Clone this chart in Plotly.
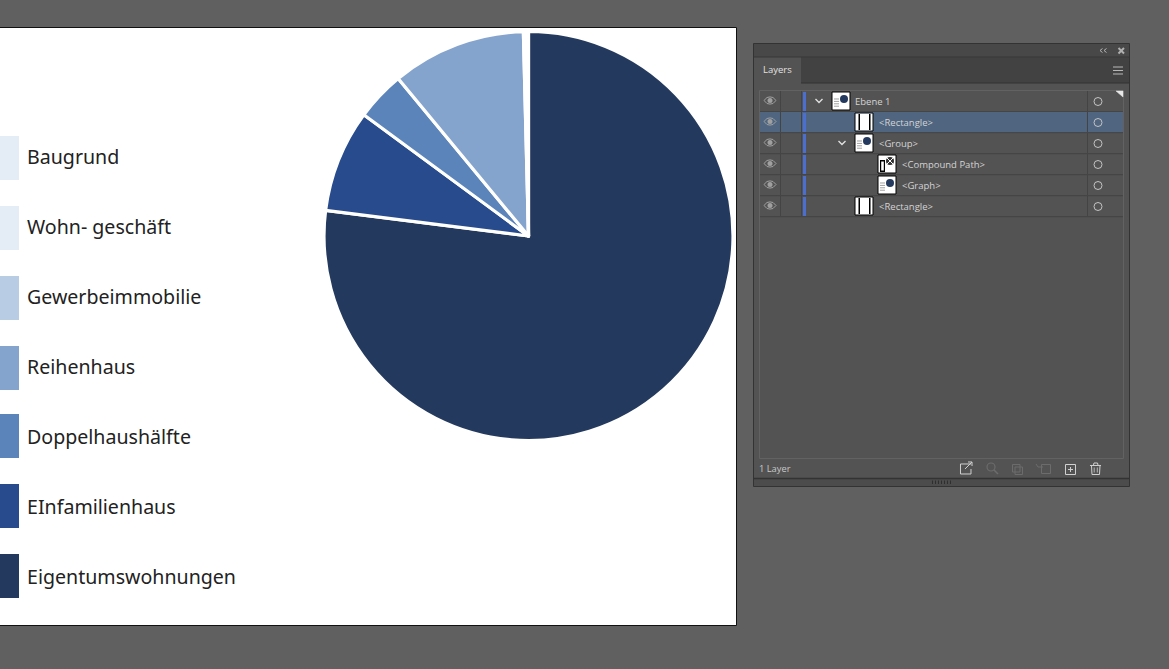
import plotly.graph_objects as go

W, H = 1169, 669

# ---- chart data ----
categories = ["Eigentumswohnungen", "EInfamilienhaus", "Doppelhaushälfte", "Reihenhaus",
              "Gewerbeimmobilie", "Wohn- geschäft", "Baugrund"]
values = [77.0, 8.1, 3.9, 10.6, 0.2, 0.1, 0.1]
colors = ["#24395e", "#274b8d", "#5b84ba", "#84a4cd", "#b8cce4", "#e4edf6", "#e4edf6"]

layer_names = ["Ebene 1", "<Rectangle>", "<Group>", "<Compound Path>", "<Graph>", "<Rectangle>"]
layer_text_x = [855, 879, 879, 902, 902, 879]
layer_thumb_x = [832, 855, 855, 878, 878, 855]
layer_thumb_kind = ["pie", "rect", "pie", "comp", "pie", "rect"]


def px(x):
    return x / W


def py(y):
    return 1 - y / H


shapes = []
annotations = []


def rect(x0, y0, x1, y1, fill="rgba(0,0,0,0)", line=None, lw=1):
    shapes.append(dict(type="rect", xref="paper", yref="paper", layer="below",
                       x0=px(x0), x1=px(x1), y0=py(y0), y1=py(y1), fillcolor=fill,
                       line=dict(color=line or "rgba(0,0,0,0)", width=lw if line else 0)))


def oval(x0, y0, x1, y1, fill="rgba(0,0,0,0)", line=None, lw=1):
    shapes.append(dict(type="circle", xref="paper", yref="paper", layer="below",
                       x0=px(x0), x1=px(x1), y0=py(y0), y1=py(y1), fillcolor=fill,
                       line=dict(color=line or "rgba(0,0,0,0)", width=lw if line else 0)))


def poly(points, line="#cfcfcf", lw=1.3, fill=None, close=False):
    d = "M " + " L ".join(f"{px(a):.5f},{py(b):.5f}" for a, b in points) + (" Z" if close else "")
    shapes.append(dict(type="path", xref="paper", yref="paper", layer="below", path=d,
                       fillcolor=fill or "rgba(0,0,0,0)",
                       line=dict(color=line, width=lw)))


def text(x, y, s, size, color, family="Open Sans", anchor="left"):
    annotations.append(dict(xref="paper", yref="paper", x=px(x), y=py(y), text=s, showarrow=False,
                            xanchor=anchor, yanchor="middle", align="left",
                            font=dict(size=size, color=color, family=family),
                            borderpad=0, borderwidth=0))


# ---- artboard ----
rect(-5, 27.5, 736.5, 625.5, fill="#ffffff", line="#111111", lw=1)

# ---- hand-built legend ----
legend_tops = [554, 484, 414, 346, 276, 206, 136]
legend_text_y = [576.6, 506.6, 436.6, 366.6, 296.6, 226.6, 156.6]
for name, col, top, ty in zip(categories, colors, legend_tops, legend_text_y):
    rect(-2, top, 19, top + 44, fill=col)
    text(27, ty, name, 19.6, "#222222", family="Noto Sans")

# ---- layers panel ----
rect(753.5, 43.5, 1129.5, 486.5, fill="#535353", line="#333333", lw=1)
rect(754, 44, 1129, 57, fill="#484848")
rect(754, 57, 1129, 83, fill="#424242")
rect(754, 57, 801, 83, fill="#535353")
poly([(754, 57), (1129, 57)], line="#383838", lw=1)
poly([(801, 83), (1129, 83)], line="#333333", lw=1)
text(763, 69.5, "Layers", 9.5, "#e2e2e2", family="Open Sans")

# panel controls
for x in (1100, 1104):
    poly([(x + 2.5, 48.5), (x, 50.5), (x + 2.5, 52.5)], line="#b5b5b5", lw=1)
poly([(1118.5, 48), (1124, 53.5)], line="#b0b0b0", lw=2)
poly([(1124, 48), (1118.5, 53.5)], line="#b0b0b0", lw=2)
for y in (67, 70.5, 74):
    poly([(1113, y), (1123, y)], line="#b9b9b9", lw=1)

# list area
rect(759.5, 90.5, 1123.5, 458.5, line="#626262", lw=1)

rows_top = [91, 112, 133, 154, 175, 196]
chevrons = [(819, 101), None, (842, 143), None, None, None]
for i, top in enumerate(rows_top):
    mid = top + 10.5
    if i == 1:
        rect(760, top, 1123, top + 20.5, fill="#4f6580")
    poly([(760, top + 20.7), (1123, top + 20.7)], line="#434343", lw=1)
    # column separators
    poly([(780.5, top), (780.5, top + 20)], line="#444444", lw=1)
    poly([(801.5, top), (801.5, top + 20)], line="#444444", lw=1)
    poly([(1087.5, top), (1087.5, top + 20)], line="#444444", lw=1)
    # eye
    poly([(764, mid - 1), (767, mid - 4), (770, mid - 4.6), (773, mid - 4), (776, mid - 1),
          (773, mid + 2), (770, mid + 2.6), (767, mid + 2)], line="#a0a0a0", lw=1, close=True)
    oval(767.5, mid - 3.5, 772.5, mid + 1.5, fill="#a0a0a0")
    # colour bar
    rect(803, top + 1, 806, top + 20, fill="#4a6fd1")
    # target circle
    oval(1094, mid - 4, 1102, mid + 4, line="#c4c4c4", lw=1)
    # thumbnail
    tx = layer_thumb_x[i]
    ty = top + 1
    rect(tx, ty, tx + 18, ty + 18, fill="#ffffff", line="#000000", lw=1)
    kind = layer_thumb_kind[i]
    if kind == "pie":
        oval(tx + 8, ty + 3, tx + 16, ty + 11, fill="#24395e")
        for k in range(4):
            poly([(tx + 2, ty + 7 + k * 2.4), (tx + 7, ty + 7 + k * 2.4)], line="#a0a0a0", lw=1)
    elif kind == "rect":
        rect(tx + 3.5, ty + 1, tx + 5, ty + 17, fill="#000000")
        rect(tx + 14, ty + 1, tx + 15.5, ty + 17, fill="#000000")
    else:
        rect(tx + 2, ty + 5, tx + 7, ty + 17, fill="#000000")
        rect(tx + 3.2, ty + 6.5, tx + 5.8, ty + 15.5, fill="#ffffff")
        oval(tx + 8, ty + 2, tx + 16, ty + 10, fill="#333333")
        poly([(tx + 9, ty + 3), (tx + 15, ty + 9)], line="#ffffff", lw=1)
        poly([(tx + 15, ty + 3), (tx + 9, ty + 9)], line="#ffffff", lw=1)
    # chevron
    if chevrons[i]:
        cx, cy = chevrons[i]
        poly([(cx - 3.5, cy - 2), (cx, cy + 1.5), (cx + 3.5, cy - 2)], line="#e0e0e0", lw=1.4)
    text(layer_text_x[i], mid - 0.4, layer_names[i].replace("<", "&lt;").replace(">", "&gt;"),
         9.5, "#d4d4d4", family="Open Sans")

# corner fold on first row
poly([(1116, 91), (1123, 91), (1123, 97)], line="#e8e8e8", lw=0.5, fill="#e8e8e8", close=True)

# footer
text(759, 468.5, "1 Layer", 9.3, "#c8c8c8", family="Open Sans")
poly([(971, 464), (960.5, 464), (960.5, 474), (971, 474), (971, 469)], line="#d0d0d0", lw=1)
poly([(965, 469), (972, 462)], line="#d0d0d0", lw=1)
poly([(968, 462), (972, 462), (972, 466)], line="#d0d0d0", lw=1)
oval(987, 463, 995, 471, line="#6c6c6c", lw=1.2)
poly([(994, 470), (998, 474)], line="#6c6c6c", lw=1.6)
rect(1012.5, 464.5, 1020, 472, line="#6c6c6c", lw=1)
rect(1015, 467, 1022.5, 474.5, line="#6c6c6c", lw=1)
rect(1041.5, 464.5, 1050.5, 473.5, line="#6c6c6c", lw=1)
poly([(1036, 464), (1038, 467), (1043, 467)], line="#6c6c6c", lw=1)
rect(1065.5, 464.5, 1075.5, 474.5, line="#d0d0d0", lw=1)
poly([(1068, 469.5), (1073, 469.5)], line="#d0d0d0", lw=1)
poly([(1070.5, 467), (1070.5, 472)], line="#d0d0d0", lw=1)
poly([(1090, 465.5), (1101, 465.5)], line="#d0d0d0", lw=1)
poly([(1091.5, 465.5), (1092, 474.5), (1099.5, 474.5), (1100, 465.5)], line="#d0d0d0", lw=1)
poly([(1093.5, 465), (1094, 463), (1097.5, 463), (1098, 465)], line="#d0d0d0", lw=1)
poly([(1094.2, 467.5), (1094.2, 472.5)], line="#d0d0d0", lw=0.8)
poly([(1097.3, 467.5), (1097.3, 472.5)], line="#d0d0d0", lw=0.8)
rect(754, 479, 1129, 486, fill="#4c4c4c")
poly([(754, 478.5), (1129, 478.5)], line="#333333", lw=1.5)
for k in range(7):
    x = 932.5 + k * 3
    poly([(x, 480.5), (x, 484)], line="#2f2f2f", lw=1)

# ---- pie ----
cx, cy, r = 528.5, 236, 204.5
fig = go.Figure(go.Pie(
    labels=categories, values=values, sort=False, direction="clockwise", rotation=0,
    marker=dict(colors=colors, line=dict(color="#ffffff", width=3.2)),
    textinfo="none", showlegend=False, hoverinfo="label+percent",
    domain=dict(x=[px(cx - r), px(cx + r)], y=[py(cy + r), py(cy - r)]),
))

fig.update_layout(
    width=W, height=H, autosize=False,
    margin=dict(l=0, r=0, t=0, b=0),
    paper_bgcolor="#606060", plot_bgcolor="#606060",
    shapes=shapes, annotations=annotations,
)
fig.write_html(
    "out.html",
    config=dict(displayModeBar=False),
    post_script="document.body.style.margin='0';document.body.style.overflow='hidden';"
                "document.documentElement.style.overflow='hidden';"
                "document.body.style.background='#606060';",
)
